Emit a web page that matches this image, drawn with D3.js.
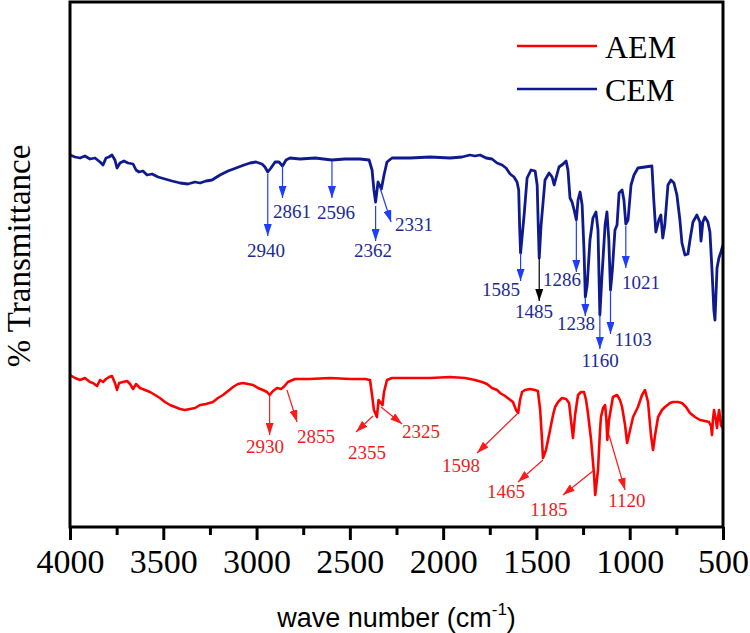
<!DOCTYPE html>
<html>
<head>
<meta charset="utf-8">
<script src="https://cdn.jsdelivr.net/npm/d3@7"></script>
<style>
  html, body { margin: 0; padding: 0; background: #fff; }
  svg { display: block; }
</style>
</head>
<body>
<svg id="chart" width="750" height="633"></svg>
<script>
// ---------- data (wave number cm^-1, % transmittance in arbitrary offset units) ----------
const seriesNames = ["AEM", "CEM"];

const cemSpectrum = [
  [4000,74.4],[3973,74.0],[3946,73.8],[3920,74.2],[3893,73.6],[3866,73.8],[3839,73.0],[3823,72.4],
  [3807,73.8],[3791,74.0],[3775,74.4],[3759,73.4],[3748,71.8],[3732,72.8],[3711,73.2],[3689,72.8],
  [3662,72.6],[3646,71.4],[3630,71.0],[3609,71.2],[3587,70.4],[3560,70.6],[3528,70.0],[3491,69.6],
  [3453,69.2],[3410,68.8],[3368,68.6],[3330,69.0],[3303,68.8],[3271,69.2],[3239,69.4],[3196,70.4],
  [3153,71.2],[3110,71.8],[3067,72.4],[3035,72.8],[3003,73.0],[2971,72.6],[2955,72.0],[2940,71.0],
  [2923,71.8],[2901,73.0],[2880,73.0],[2861,72.2],[2842,73.4],[2821,73.8],[2767,73.6],[2687,73.8],
  [2596,73.4],[2526,73.6],[2446,73.6],[2397,73.4],[2381,71.4],[2371,67.4],[2362,65.0],[2349,69.0],
  [2331,67.6],[2317,70.4],[2301,73.0],[2274,73.8],[2178,73.8],[2070,74.0],[1963,73.8],[1899,74.0],
  [1856,74.4],[1829,74.2],[1802,74.4],[1770,73.8],[1738,73.6],[1711,72.8],[1684,72.4],[1663,71.8],
  [1641,70.6],[1620,70.0],[1604,69.0],[1595,67.4],[1590,60.0],[1585,54.8],[1577,58.0],[1566,62.4],
  [1550,69.8],[1529,71.4],[1507,71.2],[1496,68.4],[1490,60.0],[1485,53.8],[1475,60.4],[1454,69.4],
  [1432,70.8],[1416,70.0],[1405,68.4],[1395,69.8],[1379,72.0],[1357,72.6],[1341,73.2],[1331,71.4],
  [1320,65.8],[1309,65.0],[1298,63.4],[1286,61.4],[1277,65.4],[1266,67.0],[1255,64.4],[1245,55.4],
  [1238,46.0],[1228,48.4],[1213,57.4],[1197,61.8],[1181,63.0],[1170,59.4],[1163,47.4],[1160,42.4],
  [1150,49.4],[1132,60.4],[1122,63.0],[1112,57.4],[1103,47.4],[1093,51.4],[1079,59.4],[1068,60.4],
  [1057,66.8],[1041,67.4],[1031,65.4],[1021,60.6],[1009,61.4],[993,68.4],[977,70.4],[956,71.8],
  [918,72.0],[881,72.2],[871,65.4],[860,59.0],[844,61.4],[833,62.4],[823,57.8],[812,60.4],
  [795,68.4],[779,69.4],[763,68.8],[747,66.4],[731,61.4],[720,56.8],[704,54.4],[688,54.6],
  [677,57.4],[661,61.0],[640,62.4],[624,61.0],[618,57.2],[608,61.0],[597,62.0],[581,61.0],
  [570,59.0],[559,51.4],[549,43.4],[543,41.4],[532,51.8],[522,53.8],[511,55.0],[500,56.4]
];

const aemSpectrum = [
  [4000,30.4],[3973,29.8],[3946,29.4],[3920,29.8],[3893,29.0],[3877,28.8],[3855,28.2],[3839,29.4],
  [3823,29.0],[3807,29.6],[3791,30.0],[3775,30.2],[3759,28.8],[3748,27.4],[3737,28.8],[3716,29.0],
  [3694,29.2],[3678,28.6],[3662,27.6],[3646,28.6],[3625,27.8],[3598,27.4],[3571,27.0],[3544,26.4],
  [3518,25.8],[3491,25.0],[3464,24.4],[3437,24.0],[3410,23.6],[3384,23.4],[3357,23.6],[3330,23.8],
  [3303,24.4],[3271,24.6],[3234,25.0],[3207,25.8],[3180,26.4],[3153,27.2],[3126,28.0],[3100,28.6],
  [3073,28.8],[3046,28.6],[3019,28.4],[2992,27.8],[2966,27.4],[2944,27.0],[2930,26.4],[2912,27.2],
  [2890,27.8],[2869,27.6],[2855,28.0],[2832,29.0],[2794,29.6],[2714,29.6],[2606,29.8],[2499,29.6],
  [2419,29.6],[2392,29.4],[2381,26.4],[2371,23.4],[2355,22.0],[2346,25.4],[2325,24.4],[2317,27.0],
  [2301,29.4],[2274,29.8],[2178,29.8],[2070,29.8],[1963,30.0],[1883,29.8],[1829,29.4],[1792,29.0],
  [1765,28.6],[1738,27.8],[1711,27.4],[1695,26.8],[1668,26.2],[1647,25.6],[1626,25.0],[1609,23.4],
  [1598,22.8],[1588,25.4],[1577,27.0],[1561,27.4],[1534,27.6],[1508,27.4],[1492,27.2],[1480,23.4],
  [1470,17.4],[1465,13.8],[1449,15.4],[1427,19.4],[1411,22.4],[1400,24.0],[1384,25.0],[1363,25.8],
  [1341,25.6],[1325,24.8],[1315,21.4],[1304,17.8],[1293,22.4],[1277,26.4],[1261,27.0],[1245,27.0],
  [1234,25.4],[1224,22.8],[1207,17.4],[1191,10.4],[1185,6.4],[1170,11.4],[1159,19.4],[1154,22.0],
  [1143,23.8],[1132,24.4],[1125,21.4],[1120,17.4],[1111,21.4],[1090,26.0],[1068,26.4],[1052,25.4],
  [1041,24.0],[1025,20.4],[1014,16.8],[998,19.4],[982,22.0],[956,24.0],[934,26.4],[918,27.4],
  [902,25.0],[886,18.4],[875,15.4],[864,18.4],[848,22.0],[827,23.4],[811,24.0],[784,24.8],
  [768,25.0],[741,25.0],[720,24.8],[698,24.0],[677,22.8],[650,22.0],[623,21.4],[596,21.2],
  [575,21.0],[564,20.2],[559,18.4],[554,21.4],[548,23.4],[538,21.4],[532,19.8],[527,21.8],
  [521,23.4],[511,20.4],[505,20.0],[500,21.4]
];

// peak annotations: label, arrow start (wn, T), arrow end (wn, T), label centre (wn, T)
const cemPeaks = [
  ["2940", 2940, 70.6, 2940, 58.2, 2950, 55.4],
  ["2861", 2861, 72.2, 2861, 65.8, 2810, 63.2],
  ["2596", 2596, 73.2, 2596, 65.8, 2574, 63.0],
  ["2362", 2362, 64.2, 2362, 57.2, 2376, 55.4],
  ["2331", 2338, 67.8, 2279, 61.0, 2156, 60.6],
  ["1585", 1585, 54.8, 1585, 49.2, 1690, 47.6],
  ["1485", 1485, 53.8, 1485, 45.2, 1513, 43.2],
  ["1286", 1286, 61.4, 1286, 51.0, 1363, 49.6],
  ["1238", 1238, 46.0, 1238, 42.2, 1288, 40.8],
  ["1160", 1160, 42.4, 1160, 35.6, 1159, 33.4],
  ["1103", 1103, 47.4, 1103, 38.6, 982, 37.6],
  ["1021", 1021, 60.2, 1021, 51.8, 940, 49.0]
];
const aemPeaks = [
  ["2930", 2930, 26.4, 2930, 18.4, 2955, 16.2],
  ["2855", 2837, 27.4, 2783, 21.0, 2681, 18.2],
  ["2355", 2376, 22.2, 2467, 19.0, 2408, 15.0],
  ["2325", 2333, 24.0, 2220, 20.6, 2119, 19.2],
  ["1598", 1604, 22.6, 1818, 14.8, 1904, 12.4],
  ["1465", 1465, 13.4, 1599, 9.0, 1663, 7.2],
  ["1185", 1197, 11.2, 1358, 6.4, 1433, 3.6],
  ["1120", 1111, 18.4, 1025, 7.4, 1015, 5.4]
];
const blackArrowLabels = ["1485"];

const xTicks = [4000, 3500, 3000, 2500, 2000, 1500, 1000, 500];
const xMinorTicks = [3750, 3250, 2750, 2250, 1750, 1250, 750];
const xTitle = "wave number (cm";
const xTitleSup = "-1";
const yTitle = "% Transmittance";

// ---------- layout ----------
const svg = d3.select("#chart");
const L = 70, R = 723, T = 2, B = 527;
const serif = "Liberation Serif, Times New Roman, serif";
const sans = "Liberation Sans, Arial, sans-serif";

const x = d3.scaleLinear().domain([4000, 500]).range([L, R]);
const y = d3.scaleLinear().domain([0, 105]).range([B, T]);

const colors = {
  AEM: "#ff0000", CEM: "#0e1a8e",
  aemLabel: "#ee1c1c", cemLabel: "#1c2a94",
  aemArrow: "#ff1a1a", cemArrow: "#1f3dff", black: "#000000"
};

// arrow markers
const defs = svg.append("defs");
function marker(id, color) {
  defs.append("marker").attr("id", id)
    .attr("viewBox", "0 0 12 8").attr("refX", 12).attr("refY", 4)
    .attr("markerWidth", 12).attr("markerHeight", 8)
    .attr("markerUnits", "userSpaceOnUse").attr("orient", "auto")
    .append("path").attr("d", "M0,0 L12,4 L0,8 Z").attr("fill", color);
}
marker("mBlue", colors.cemArrow);
marker("mRed", colors.aemArrow);
marker("mBlack", colors.black);

defs.append("clipPath").attr("id", "clip")
  .append("rect").attr("x", L).attr("y", T).attr("width", R - L).attr("height", B - T);

const line = d3.line().x(d => x(d[0])).y(d => y(d[1])).curve(d3.curveLinear);

const plot = svg.append("g").attr("clip-path", "url(#clip)");
plot.append("path").datum(cemSpectrum).attr("d", line)
  .attr("fill", "none").attr("stroke", colors.CEM).attr("stroke-width", 2.8)
  .attr("stroke-linejoin", "round");
plot.append("path").datum(aemSpectrum).attr("d", line)
  .attr("fill", "none").attr("stroke", colors.AEM).attr("stroke-width", 2.6)
  .attr("stroke-linejoin", "round");

// annotations
function annotate(peaks, arrowColor, markerId, labelColor) {
  const g = svg.append("g");
  peaks.forEach(p => {
    const isBlack = blackArrowLabels.includes(p[0]);
    g.append("line")
      .attr("x1", x(p[1])).attr("y1", y(p[2]))
      .attr("x2", x(p[3])).attr("y2", y(p[4]))
      .attr("stroke", isBlack ? colors.black : arrowColor).attr("stroke-width", 1.2)
      .attr("marker-end", `url(#${isBlack ? "mBlack" : markerId})`);
    g.append("text")
      .attr("x", x(p[5])).attr("y", y(p[6])).attr("dy", "0.35em")
      .attr("text-anchor", "middle")
      .style("font-family", serif).style("font-size", "19px")
      .attr("fill", labelColor).text(p[0]);
  });
}
annotate(cemPeaks, colors.cemArrow, "mBlue", colors.cemLabel);
annotate(aemPeaks, colors.aemArrow, "mRed", colors.aemLabel);

// frame
svg.append("rect").attr("x", L).attr("y", T).attr("width", R - L).attr("height", B - T)
  .attr("fill", "none").attr("stroke", "#000").attr("stroke-width", 3);

// x axis
const xAxis = svg.append("g").attr("transform", `translate(0,${B})`)
  .call(d3.axisBottom(x).tickValues(xTicks).tickSize(13).tickPadding(9).tickFormat(d3.format("d")));
xAxis.select(".domain").remove();
xAxis.selectAll(".tick line").attr("stroke", "#000").attr("stroke-width", 3);
xAxis.selectAll(".tick text")
  .style("font-family", serif).style("font-size", "34px").attr("fill", "#000");

const xMinor = svg.append("g").attr("transform", `translate(0,${B})`)
  .call(d3.axisBottom(x).tickValues(xMinorTicks).tickSize(8).tickFormat(""));
xMinor.select(".domain").remove();
xMinor.selectAll(".tick line").attr("stroke", "#000").attr("stroke-width", 3);

// axis titles
const xt = svg.append("text").attr("x", (L + R) / 2).attr("y", 627)
  .attr("text-anchor", "middle").style("font-family", sans).style("font-size", "27px").attr("fill", "#000");
xt.append("tspan").text(xTitle);
xt.append("tspan").style("font-size", "17px").attr("dy", -12).text(xTitleSup);
xt.append("tspan").attr("dy", 12).text(")");

svg.append("text").attr("transform", `translate(29.5,256) rotate(-90)`)
  .attr("text-anchor", "middle").style("font-family", serif).style("font-size", "33px")
  .attr("fill", "#000").text(yTitle);

// legend
const legend = svg.append("g");
const legendY = [46, 89];
seriesNames.forEach((name, i) => {
  legend.append("line").attr("x1", 517).attr("x2", 597)
    .attr("y1", legendY[i]).attr("y2", legendY[i])
    .attr("stroke", colors[name]).attr("stroke-width", 2.6);
  legend.append("text").attr("x", 605).attr("y", legendY[i] + 12)
    .style("font-family", serif).style("font-size", "32px").attr("fill", "#000").text(name);
});
</script>
</body>
</html>
